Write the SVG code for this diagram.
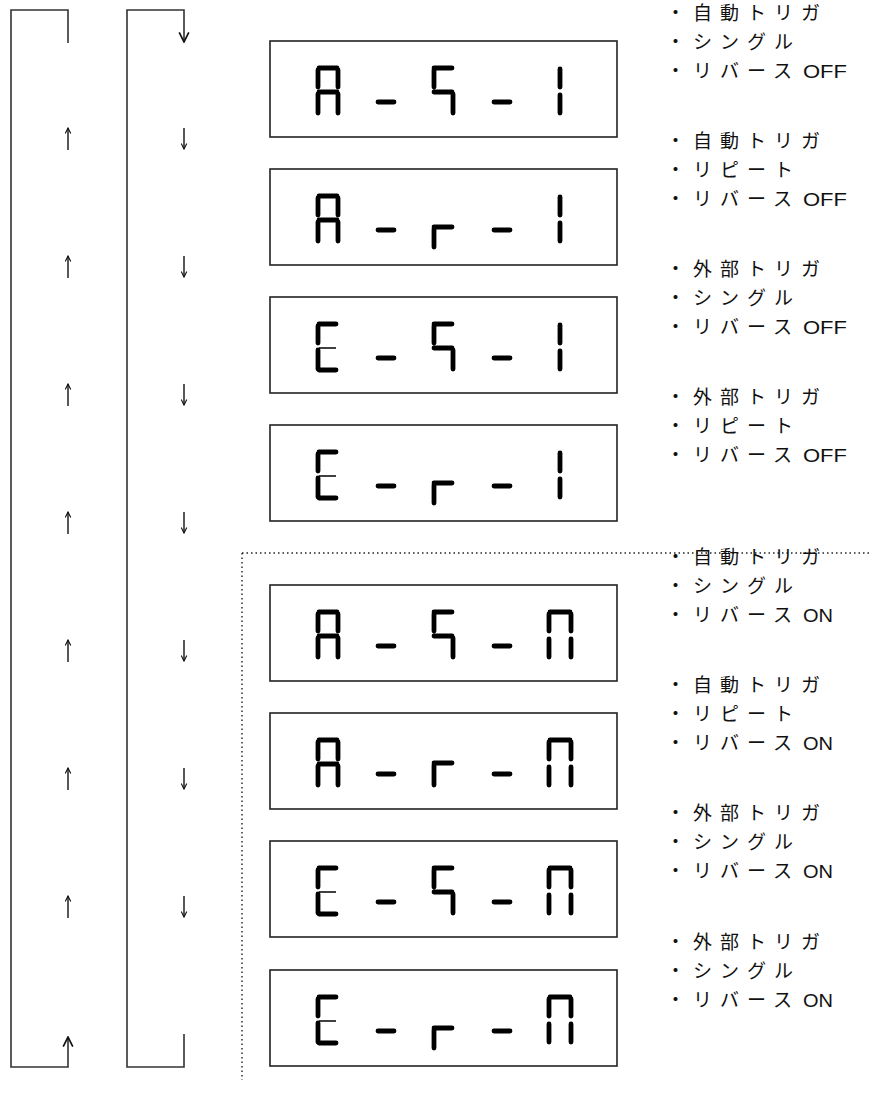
<svg xmlns="http://www.w3.org/2000/svg" width="869" height="1094" viewBox="0 0 869 1094">
<style>
.box{fill:#fff;stroke:#222;stroke-width:1.6}
.seg{fill:none;stroke:#000;stroke-width:4.8;stroke-linecap:round}
.thin{fill:none;stroke:#000;stroke-width:1.5}
.ln{fill:none;stroke:#333;stroke-width:1.6}
.arr{fill:none;stroke:#111;stroke-width:1.4}
.dot{fill:none;stroke:#222;stroke-width:1.4;stroke-dasharray:1.5 3}
.lbl{font-family:"Noto Sans CJK JP","Noto Sans",sans-serif;font-size:19px;letter-spacing:8px;fill:#111}
.lat{font-family:"Liberation Sans",sans-serif;font-size:19px;fill:#111}
</style>
<defs>
<marker id="hs" viewBox="0 0 10 10" refX="9" refY="5" markerWidth="7" markerHeight="7" markerUnits="userSpaceOnUse" orient="auto"><path d="M1,1 L9,5 L1,9" fill="none" stroke="#111" stroke-width="1.6"/></marker>
<marker id="hl" viewBox="0 0 10 10" refX="9" refY="5" markerWidth="12" markerHeight="12" markerUnits="userSpaceOnUse" orient="auto"><path d="M1,1 L9,5 L1,9" fill="none" stroke="#111" stroke-width="1.4"/></marker>
<g id="dA" class="seg"><path d="M1,27 H19 M0,29 V46 M20,29 V46 M1,51 H19 M0,53 V72 M20,53 V72"/></g>
<g id="dE"><path class="seg" d="M1,27 H18 M0,29 V46 M0,53 V72 M1,73 H18"/><path class="thin" d="M1,51 H18"/></g>
<g id="dS" class="seg"><path d="M116,27 H134 M116,29 V46 M116,51 H134 M135,53 V72"/></g>
<g id="dr" class="seg"><path d="M116,58 H134 M116,60 V78"/></g>
<g id="dr2" class="seg"><path d="M116,50 H134 M116,52 V72"/></g>
<g id="dashes" class="seg"><path d="M60,61 H76 M176,61 H192"/></g>
<g id="d1" class="seg"><path d="M242,28 V46 M242,54 V72"/></g>
<g id="dn" class="seg"><path d="M232,27 H252 M231,29 V46 M253,29 V46 M231,54 V72 M253,54 V72"/></g>
</defs>
<rect width="869" height="1094" fill="#fff"/>

<g id="connectors">
<path class="ln" d="M68,43 V10 H11 V1067 H68 V1037" marker-end="url(#hl)"/>
<path class="ln" d="M184,1034 V1067 H127 V10 H184 V42" marker-end="url(#hl)"/>
<g class="arr">
<path d="M68,150 V128" marker-end="url(#hs)"/>
<path d="M68,278 V256" marker-end="url(#hs)"/>
<path d="M68,406 V384" marker-end="url(#hs)"/>
<path d="M68,534 V512" marker-end="url(#hs)"/>
<path d="M68,662 V640" marker-end="url(#hs)"/>
<path d="M68,790 V768" marker-end="url(#hs)"/>
<path d="M68,918 V896" marker-end="url(#hs)"/>
<path d="M184,128 V149" marker-end="url(#hs)"/>
<path d="M184,256 V277" marker-end="url(#hs)"/>
<path d="M184,384 V405" marker-end="url(#hs)"/>
<path d="M184,512 V533" marker-end="url(#hs)"/>
<path d="M184,640 V661" marker-end="url(#hs)"/>
<path d="M184,768 V789" marker-end="url(#hs)"/>
<path d="M184,896 V917" marker-end="url(#hs)"/>
</g>
</g>

<g id="divider">
<path class="dot" d="M242,553 H869"/>
<path class="dot" d="M242,553 V1080"/>
</g>

<g id="node1" transform="translate(0,41)">
<rect class="box" x="270" y="0" width="347" height="96"/>
<g transform="translate(318,0)"><use href="#dA"/><use href="#dS"/><use href="#dashes"/><use href="#d1"/></g>
<text class="lbl" x="666" y="-21">・自動トリガ</text>
<text class="lbl" x="666" y="8">・シングル</text>
<text class="lbl" x="666" y="37">・リバース</text>
<text class="lat" x="803" y="37" textLength="44" lengthAdjust="spacingAndGlyphs">OFF</text>
</g>

<g id="node2" transform="translate(0,169)">
<rect class="box" x="270" y="0" width="347" height="96"/>
<g transform="translate(318,0)"><use href="#dA"/><use href="#dr"/><use href="#dashes"/><use href="#d1"/></g>
<text class="lbl" x="666" y="-21">・自動トリガ</text>
<text class="lbl" x="666" y="8">・リピート</text>
<text class="lbl" x="666" y="37">・リバース</text>
<text class="lat" x="803" y="37" textLength="44" lengthAdjust="spacingAndGlyphs">OFF</text>
</g>

<g id="node3" transform="translate(0,297)">
<rect class="box" x="270" y="0" width="347" height="96"/>
<g transform="translate(318,0)"><use href="#dE"/><use href="#dS"/><use href="#dashes"/><use href="#d1"/></g>
<text class="lbl" x="666" y="-21">・外部トリガ</text>
<text class="lbl" x="666" y="8">・シングル</text>
<text class="lbl" x="666" y="37">・リバース</text>
<text class="lat" x="803" y="37" textLength="44" lengthAdjust="spacingAndGlyphs">OFF</text>
</g>

<g id="node4" transform="translate(0,425)">
<rect class="box" x="270" y="0" width="347" height="96"/>
<g transform="translate(318,0)"><use href="#dE"/><use href="#dr"/><use href="#dashes"/><use href="#d1"/></g>
<text class="lbl" x="666" y="-21">・外部トリガ</text>
<text class="lbl" x="666" y="8">・リピート</text>
<text class="lbl" x="666" y="37">・リバース</text>
<text class="lat" x="803" y="37" textLength="44" lengthAdjust="spacingAndGlyphs">OFF</text>
</g>

<g id="node5" transform="translate(0,585)">
<rect class="box" x="270" y="0" width="347" height="96"/>
<g transform="translate(318,0)"><use href="#dA"/><use href="#dS"/><use href="#dashes"/><use href="#dn"/></g>
<text class="lbl" x="666" y="-21">・自動トリガ</text>
<text class="lbl" x="666" y="8">・シングル</text>
<text class="lbl" x="666" y="37">・リバース</text>
<text class="lat" x="803" y="37" textLength="30" lengthAdjust="spacingAndGlyphs">ON</text>
</g>

<g id="node6" transform="translate(0,713)">
<rect class="box" x="270" y="0" width="347" height="96"/>
<g transform="translate(318,0)"><use href="#dA"/><use href="#dr2"/><use href="#dashes"/><use href="#dn"/></g>
<text class="lbl" x="666" y="-21">・自動トリガ</text>
<text class="lbl" x="666" y="8">・リピート</text>
<text class="lbl" x="666" y="37">・リバース</text>
<text class="lat" x="803" y="37" textLength="30" lengthAdjust="spacingAndGlyphs">ON</text>
</g>

<g id="node7" transform="translate(0,841)">
<rect class="box" x="270" y="0" width="347" height="96"/>
<g transform="translate(318,0)"><use href="#dE"/><use href="#dS"/><use href="#dashes"/><use href="#dn"/></g>
<text class="lbl" x="666" y="-21">・外部トリガ</text>
<text class="lbl" x="666" y="8">・シングル</text>
<text class="lbl" x="666" y="37">・リバース</text>
<text class="lat" x="803" y="37" textLength="30" lengthAdjust="spacingAndGlyphs">ON</text>
</g>

<g id="node8" transform="translate(0,970)">
<rect class="box" x="270" y="0" width="347" height="96"/>
<g transform="translate(318,0)"><use href="#dE"/><use href="#dr"/><use href="#dashes"/><use href="#dn"/></g>
<text class="lbl" x="666" y="-21">・外部トリガ</text>
<text class="lbl" x="666" y="8">・シングル</text>
<text class="lbl" x="666" y="37">・リバース</text>
<text class="lat" x="803" y="37" textLength="30" lengthAdjust="spacingAndGlyphs">ON</text>
</g>
</svg>
